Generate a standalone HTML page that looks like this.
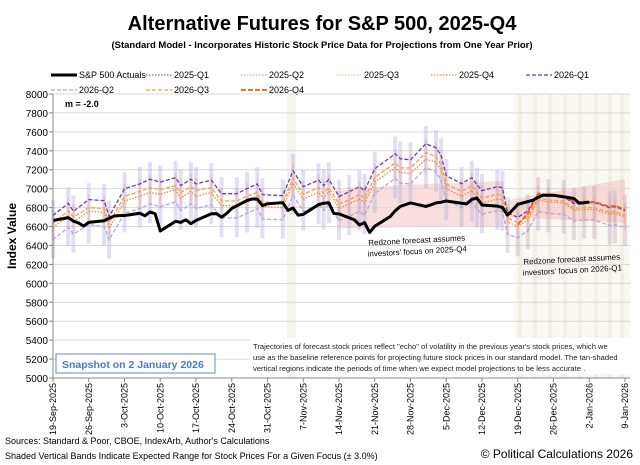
<!DOCTYPE html>
<html><head><meta charset="utf-8"><style>
body{margin:0;background:#fff;}
svg{display:block;font-family:"Liberation Sans",sans-serif;}
</style></head><body>
<svg id="chart" width="640" height="465" viewBox="0 0 640 465" xmlns="http://www.w3.org/2000/svg">
<rect width="640" height="465" fill="#fff"/>
<text x="322" y="30" text-anchor="middle" font-size="20" font-weight="bold">Alternative Futures for S&amp;P 500, 2025-Q4</text>
<text x="322" y="48" text-anchor="middle" font-size="9.5" font-weight="bold">(Standard Model - Incorporates Historic Stock Price Data for Projections from One Year Prior)</text>
<g id="legend" font-size="9"></g>
<g id="bg"></g>
<g id="grid"></g>
<g id="bars"></g>
<g id="lines"></g>
<g id="axes"></g>
<text x="65" y="107" font-size="9" font-weight="bold">m = -2.0</text>
<text transform="translate(16,236) rotate(-90)" text-anchor="middle" font-size="12" font-weight="bold">Index Value</text>
<g transform="rotate(-3 417 247)" font-size="8" text-anchor="middle">
<text x="417" y="243">Redzone forecast assumes</text><text x="417" y="254">investors' focus on 2025-Q4</text></g>
<g transform="rotate(-3 572 265)" font-size="8" text-anchor="middle">
<text x="572" y="262">Redzone forecast assumes</text><text x="572" y="273">investors' focus on 2026-Q1</text></g>
<rect x="250" y="338" width="380" height="36" fill="#fff"/>
<g font-size="7.6" fill="#222">
<text x="253" y="349">Trajectories of forecast stock prices reflect "echo" of volatility in  the previous year's stock prices, which we</text>
<text x="253" y="360">use as the baseline reference points for projecting future stock prices in our standard model.   The tan-shaded</text>
<text x="253" y="371">vertical regions indicate the periods of time when we expect  model projections to be less accurate .</text></g>
<rect x="56" y="354" width="159" height="19" fill="#fff" stroke="#5b8fd0" stroke-width="1"/>
<text x="62" y="368" font-size="10.5" font-weight="bold" fill="#4a7cc2">Snapshot on 2 January 2026</text>
<text x="5" y="444" font-size="9">Sources: Standard &amp; Poor, CBOE, IndexArb, Author's Calculations</text>
<text x="5" y="459" font-size="9">Shaded Vertical Bands Indicate Expected Range for Stock Prices For a Given Focus (± 3.0%)</text>
<text x="633" y="458" text-anchor="end" font-size="12">© Political Calculations 2026</text>
</svg>
<script>
// ---- data ----
const actualWeeks = [
 [0],[3,4,5,6,7],[10,11,12,13,14],[17,18,19,20,21],[24,25,26,27,28],[31,32,33,34,35],[38,39,40,41,42],
 [45,46,47,48,49],[52,53,54,55,56],[59,60,61,62,63],[66,67,68,70],[73,74,75,76,77],[80,81,82,83,84],
 [87,88,89,90,91],[94,95,96,98],[101,102,103],[105]];
const actualDays = actualWeeks.flat();
const actualValues = [6664,
 6694,6657,6638,6605,6644, 6661,6688,6711,6715,6716, 6740,6714,6754,6735,6553, 6655,6644,6671,6630,6664,
 6735,6736,6699,6738,6791, 6875,6891,6890,6822,6840, 6852,6771,6796,6720,6728, 6832,6846,6851,6737,6734,
 6672,6617,6642,6538,6603, 6705,6766,6813,6849, 6812,6829,6850,6857,6870, 6846,6840,6887,6901,6827,
 6816,6800,6721,6775,6834, 6878,6909,6932,6930, 6905,6896,6846, 6858];
const fDays = [0,3,4,7,10,11,14,17,19,21,24,25,27,28,31,33,36,38,40,41,45,47,49,52,53,54,56,58,60,61,63,67,68,70,73,75,76,77,80,82,83,84,87,88,89,91,93,95,97,100,102,104,106,109,110,112];
const q1_2026 = [6716,6845,6761,6884,6874,6705,7000,7050,7100,7070,7116,7032,7100,7050,7090,6947,6947,7000,7050,6937,6926,7190,7021,7090,7032,7100,6916,6968,7021,6979,7210,7368,7316,7305,7474,7432,7347,7137,7053,7116,7042,6979,7021,7010,6747,6695,6768,6947,6926,6916,6842,6853,6853,6800,6810,6768];
const q3_2026 = [6636,6765,6700,6800,6790,6640,6920,6970,7010,6990,7030,6960,7020,6980,7010,6870,6870,6920,6960,6860,6850,7110,6940,7010,6950,7010,6840,6880,6940,6900,7120,7270,7220,7220,7380,7340,7250,7050,6970,7030,6960,6900,6940,6930,6690,6640,6700,6900,6880,6870,6790,6800,6800,6750,6760,6720];
const q4_2025 = [6590,6710,6650,6760,6750,6580,6870,6920,6960,6940,6990,6900,6970,6920,6960,6820,6820,6870,6920,6810,6800,7060,6890,6960,6900,6970,6790,6840,6890,6850,7070,7220,7170,7160,7310,7280,7200,7000,6920,6980,6910,6850,6890,6880,6650,6600,6670,6880,6860,6850,6770,6780,6780,6730,6740,6700];
const q2_2026 = [6460,6590,6520,6620,6600,6460,6740,6790,6840,6810,6860,6770,6840,6790,6830,6690,6690,6740,6790,6680,6670,6930,6760,6830,6770,6840,6660,6710,6760,6720,6950,7110,7060,7050,7220,7180,7090,6880,6800,6860,6790,6730,6770,6760,6520,6480,6560,6760,6740,6730,6660,6670,6670,6610,6620,6590];
const q4Days = [91,93,95,97,100,102,104,106,109,110,112];
const q4_2026 = [6620,6740,6950,6930,6920,6860,6860,6860,6810,6820,6780];
const redzone1Days = [56,68,88];
const redzone1Upper = [6980,7040,7080];
const redzone1Lower = [6580,6590,6600];
const redzone2Days = [89,112];
const redzone2Upper = [6880,7100];
const redzone2Lower = [6700,6640];
const yTicks = [5000,5200,5400,5600,5800,6000,6200,6400,6600,6800,7000,7200,7400,7600,7800,8000];
const xTickLabels = ["19-Sep-2025","26-Sep-2025","3-Oct-2025","10-Oct-2025","17-Oct-2025","24-Oct-2025","31-Oct-2025","7-Nov-2025","14-Nov-2025","21-Nov-2025","28-Nov-2025","5-Dec-2025","12-Dec-2025","19-Dec-2025","26-Dec-2025","2-Jan-2026","9-Jan-2026"];

// ---- scales ----
const X0=53, XD=(625-53)/112, Y0=378, YK=284/3000;
const sx=d=>X0+d*XD, sy=v=>Y0-(v-5000)*YK;
const NS="http://www.w3.org/2000/svg";
function mk(tag,parent,attrs){const e=document.createElementNS(NS,tag);for(const k in attrs)e.setAttribute(k,attrs[k]);parent.appendChild(e);return e;}
const bg=document.getElementById('bg'),grid=document.getElementById('grid'),bars=document.getElementById('bars'),lines=document.getElementById('lines'),axes=document.getElementById('axes'),legend=document.getElementById('legend');

// tan regions
let t=mk('rect',bg,{x:287,y:94,width:9,height:284,fill:'#f7f4ee'});


t=mk('rect',bg,{x:515,y:94,width:115,height:284,fill:'#faf8f3'});


[518,533,548,563,578,594,608,620].forEach(xx=>{const s=mk('rect',bg,{x:xx,y:94,width:4,height:284,fill:'#f3efe5'});

});

// grid
yTicks.forEach(v=>{const g=mk('line',grid,{x1:X0,x2:630,y1:sy(v),y2:sy(v),stroke:'#d9d9d9','stroke-width':1});


const tl=mk('text',axes,{x:48,y:sy(v)+4,'text-anchor':'end','font-size':10});tl.textContent=v;

});

// redzones
function zone(days,up,lo,name){const pts=days.map((d,i)=>sx(d)+','+sy(up[i])).concat(days.map((d,i)=>sx(d)+','+sy(lo[i])).reverse());
const p=mk('polygon',bg,{points:pts.join(' '),fill:'rgba(240,160,160,0.35)'});

}
zone(redzone1Days,redzone1Upper,redzone1Lower,'redzone-2025-q4');
zone(redzone2Days,redzone2Upper,redzone2Lower,'redzone-2026-q1');

// vertical range bars
fDays.forEach((d,i)=>{
 const b=mk('rect',bars,{x:sx(d)-2,y:sy(q1_2026[i]*1.025),width:4,height:sy(q2_2026[i]*0.97)-sy(q1_2026[i]*1.025),fill:d>=89?'rgba(190,160,190,0.35)':'rgba(180,175,225,0.4)'});
 
 
 const o=mk('rect',bars,{x:sx(d)-1,y:sy(q3_2026[i]*1.02),width:2,height:sy(q4_2025[i]*0.98)-sy(q3_2026[i]*1.02),fill:'rgba(230,150,110,0.3)'});
 
 
});

function series(days,vals,style,name){const p=mk('polyline',lines,Object.assign({points:days.map((d,i)=>sx(d)+','+sy(vals[i])).join(' '),fill:'none','stroke-linejoin':'round'},style));

}
const stQ2={stroke:'#b4a8dc','stroke-width':1.3,'stroke-dasharray':'4,2'};
const stQ425={stroke:'#f08a3c','stroke-width':1.3,'stroke-dasharray':'1.5,1.5'};
const stQ3={stroke:'#f8a040','stroke-width':1.3,'stroke-dasharray':'4,2'};
const stQ1={stroke:'#6a3fa0','stroke-width':1.3,'stroke-dasharray':'4,2'};
const stQ4={stroke:'#e8601c','stroke-width':1.8,'stroke-dasharray':'5,2'};
const stAct={stroke:'#000','stroke-width':3};
series(fDays,q2_2026,stQ2,'line-2026-q2');
series(fDays,q4_2025,stQ425,'line-2025-q4');
series(fDays,q3_2026,stQ3,'line-2026-q3');
series(fDays,q1_2026,stQ1,'line-2026-q1');
series(q4Days,q4_2026,stQ4,'line-2026-q4');
series(actualDays,actualValues,stAct,'line-sp500-actuals');

// axes
let a=mk('line',axes,{x1:X0,x2:X0,y1:94,y2:Y0,stroke:'#888'});
a=mk('line',axes,{x1:X0,x2:630,y1:Y0,y2:Y0,stroke:'#888'});
yTicks.forEach(v=>{const k=mk('line',axes,{x1:X0-4,x2:X0,y1:sy(v),y2:sy(v),stroke:'#888'});});
xTickLabels.forEach((lab,i)=>{const x=sx(i*7);
 const k=mk('line',axes,{x1:x,x2:x,y1:Y0,y2:Y0+4,stroke:'#888'});
 const tx=mk('text',axes,{transform:`translate(${x+3},${Y0+5}) rotate(-90)`,'text-anchor':'end','font-size':9});tx.textContent=lab;
 
 });

// legend
const legItems=[['S&P 500 Actuals',stAct,51,78],['2025-Q1',{stroke:'#7b6bb8','stroke-width':1.3,'stroke-dasharray':'1.5,1.5'},146,78],['2025-Q2',{stroke:'#b9b0e0','stroke-width':1.3,'stroke-dasharray':'1.5,1.5'},241,78],['2025-Q3',{stroke:'#f8c89a','stroke-width':1.3,'stroke-dasharray':'1.5,1.5'},336,78],['2025-Q4',stQ425,431,78],['2026-Q1',stQ1,526,78],['2026-Q2',stQ2,51,93],['2026-Q3',stQ3,146,93],['2026-Q4',stQ4,241,93]];
legItems.forEach(([lab,st,x,y])=>{const g=mk('g',legend,{});
 
 
 mk('line',g,Object.assign({x1:x,x2:x+26,y1:y-3,y2:y-3},st));
 const tx=mk('text',g,{x:x+28,y:y,'font-size':9});tx.textContent=lab;});
</script>
</body></html>
